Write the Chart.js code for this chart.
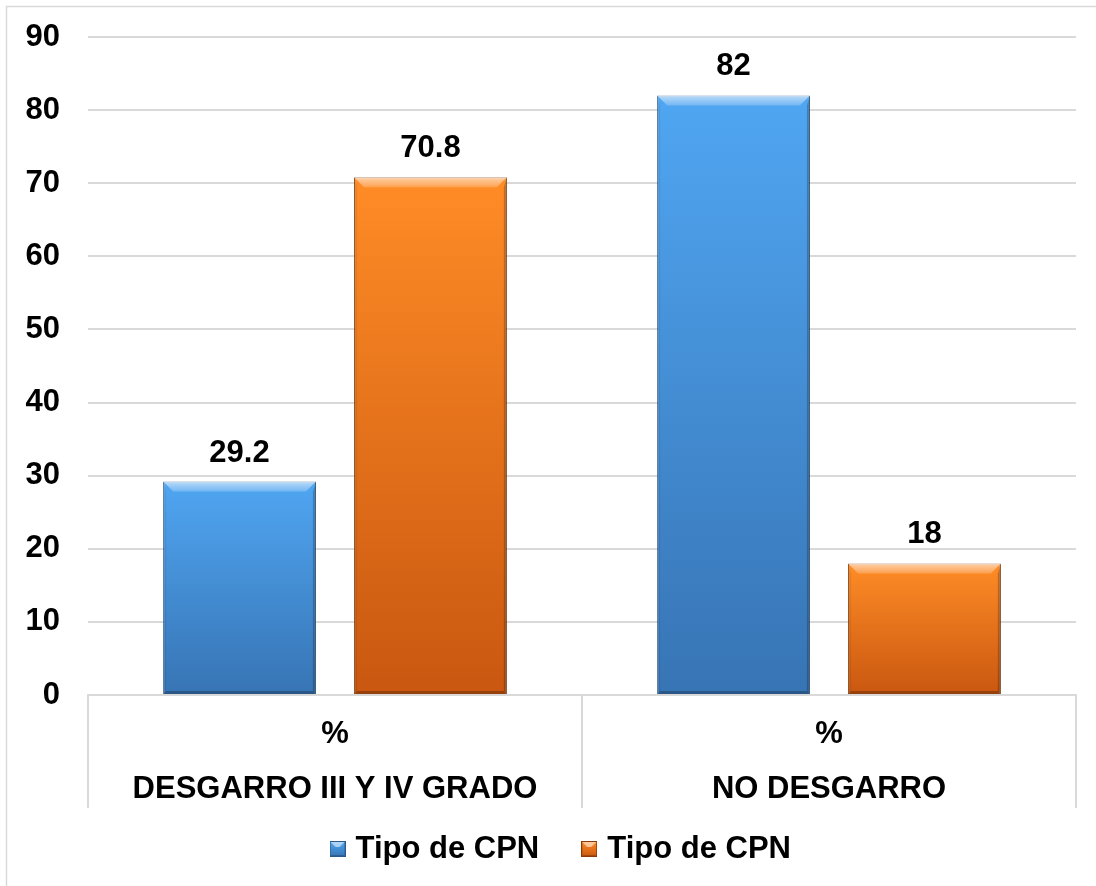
<!DOCTYPE html>
<html>
<head>
<meta charset="utf-8">
<script src="https://cdn.jsdelivr.net/npm/chart.js@4.4.1/dist/chart.umd.min.js"></script>
<style>
  html, body { margin: 0; padding: 0; background: #ffffff; }
  #wrap { width: 1096px; height: 886px; position: relative; }
</style>
</head>
<body>
<div id="wrap"><canvas id="chart" width="1096" height="886"></canvas></div>
<script>
// Categories: first line is the unit row, second line is the group name
const categories = [["%", "DESGARRO III Y IV GRADO"], ["%", "NO DESGARRO"]];
const seriesNames = ["Tipo de CPN", "Tipo de CPN"];
const blueValues = [29.2, 82];
const orangeValues = [70.8, 18];
const yMin = 0;
const yMax = 90;
const yStep = 10;

const FONT = '"Liberation Sans", Arial, Helvetica, sans-serif';
Chart.defaults.font.family = FONT;
Chart.defaults.color = '#000000';

const BLUE = { top: '#50A6F2', bottom: '#3774B4', border: '#2B5A8A', flat: '#4290DA' };
const ORANGE = { top: '#FF8C26', bottom: '#C95710', border: '#8A3A06', flat: '#F27A1C' };

// Vertical gradient for each bar, from its value down to the baseline
function barFill(pal) {
  return (c) => {
    const chart = c.chart;
    const ys = chart.scales && chart.scales.y;
    if (!ys || !chart.chartArea || c.raw == null) return pal.flat;
    const yTop = ys.getPixelForValue(c.raw);
    const yBase = ys.getPixelForValue(0);
    if (!isFinite(yTop) || !isFinite(yBase) || yTop === yBase) return pal.flat;
    const g = chart.ctx.createLinearGradient(0, yTop, 0, yBase);
    g.addColorStop(0, pal.top);
    g.addColorStop(1, pal.bottom);
    return g;
  };
}

// Small bevelled square used as the legend marker
function legendIcon(pal) {
  const s = 16;
  const cv = document.createElement('canvas');
  cv.width = s; cv.height = s;
  const x = cv.getContext('2d');
  const g = x.createLinearGradient(0, 0, 0, s);
  g.addColorStop(0, pal.top);
  g.addColorStop(1, pal.bottom);
  x.fillStyle = g;
  x.fillRect(0, 0, s, s);
  x.fillStyle = 'rgba(255,255,255,0.55)';
  x.beginPath();
  x.moveTo(0, 0); x.lineTo(s, 0); x.lineTo(s - 6, 6); x.lineTo(6, 6);
  x.closePath(); x.fill();
  x.fillStyle = 'rgba(0,0,0,0.2)';
  x.beginPath();
  x.moveTo(0, s); x.lineTo(s, s); x.lineTo(s - 2, s - 2); x.lineTo(2, s - 2);
  x.closePath(); x.fill();
  x.strokeStyle = pal.border;
  x.lineWidth = 1;
  x.strokeRect(0.5, 0.5, s - 1, s - 1);
  return cv;
}

// White page with a thin grey frame
const framePlugin = {
  id: 'frame',
  beforeDraw(chart) {
    const ctx = chart.ctx;
    ctx.save();
    ctx.fillStyle = '#ffffff';
    ctx.fillRect(0, 0, chart.width, chart.height);
    ctx.strokeStyle = '#d9d9d9';
    ctx.lineWidth = 1.5;
    ctx.strokeRect(6.5, 6.5, chart.width + 20, chart.height + 20);
    ctx.restore();
  }
};

// Place the legend row just under the category boxes
const legendPlacePlugin = {
  id: 'legendPlace',
  afterLayout(chart) {
    const lg = chart.legend;
    if (!lg) return;
    lg.top = chart.chartArea.bottom + 91;
    lg.bottom = lg.top + 100;
    lg.height = 100;
    lg.left += 21;
    lg.right += 21;
  }
};

// Bevel shading on top of each bar, positioned from the bar elements
const bevelPlugin = {
  id: 'bevel',
  afterDatasetsDraw(chart) {
    const ctx = chart.ctx;
    chart.data.datasets.forEach((ds, di) => {
      const meta = chart.getDatasetMeta(di);
      meta.data.forEach((bar) => {
        const p = bar.getProps(['x', 'y', 'base', 'width'], true);
        const l = p.x - p.width / 2, r = p.x + p.width / 2;
        const t = Math.min(p.y, p.base), b = Math.max(p.y, p.base);
        const d = 10, s = 3;
        ctx.save();
        // lit top edge
        const g = ctx.createLinearGradient(0, t, 0, t + d);
        g.addColorStop(0, 'rgba(255,255,255,0.6)');
        g.addColorStop(1, 'rgba(255,255,255,0.2)');
        ctx.fillStyle = g;
        ctx.beginPath();
        ctx.moveTo(l, t); ctx.lineTo(r, t); ctx.lineTo(r - d, t + d); ctx.lineTo(l + d, t + d);
        ctx.closePath(); ctx.fill();
        // shaded right edge
        ctx.fillStyle = 'rgba(0,0,0,0.22)';
        ctx.beginPath();
        ctx.moveTo(r, t); ctx.lineTo(r, b); ctx.lineTo(r - s, b - s); ctx.lineTo(r - s, t + d);
        ctx.closePath(); ctx.fill();
        // faint left edge
        ctx.fillStyle = 'rgba(0,0,0,0.07)';
        ctx.beginPath();
        ctx.moveTo(l, t); ctx.lineTo(l + s, t + d); ctx.lineTo(l + s, b - s); ctx.lineTo(l, b);
        ctx.closePath(); ctx.fill();
        // shaded bottom edge
        ctx.fillStyle = 'rgba(0,0,0,0.25)';
        ctx.beginPath();
        ctx.moveTo(l, b); ctx.lineTo(r, b); ctx.lineTo(r - s, b - s); ctx.lineTo(l + s, b - s);
        ctx.closePath(); ctx.fill();
        ctx.restore();
      });
    });
  }
};

// Value labels above each bar
const valueLabelPlugin = {
  id: 'valueLabels',
  afterDatasetsDraw(chart) {
    const ctx = chart.ctx;
    ctx.save();
    ctx.font = 'bold 31px ' + FONT;
    ctx.fillStyle = '#000000';
    ctx.textAlign = 'center';
    ctx.textBaseline = 'alphabetic';
    chart.data.datasets.forEach((ds, di) => {
      const meta = chart.getDatasetMeta(di);
      meta.data.forEach((bar, i) => {
        const p = bar.getProps(['x', 'y'], true);
        ctx.fillText(String(ds.data[i]), p.x, p.y - 20);
      });
    });
    ctx.restore();
  }
};

const palettes = [BLUE, ORANGE];

new Chart(document.getElementById('chart'), {
  type: 'bar',
  data: {
    labels: categories,
    datasets: [
      {
        label: seriesNames[0],
        data: blueValues,
        backgroundColor: barFill(BLUE),
        borderColor: BLUE.border,
        borderWidth: 1,
        categoryPercentage: 0.773,
        barPercentage: 0.8
      },
      {
        label: seriesNames[1],
        data: orangeValues,
        backgroundColor: barFill(ORANGE),
        borderColor: ORANGE.border,
        borderWidth: 1,
        categoryPercentage: 0.773,
        barPercentage: 0.8
      }
    ]
  },
  options: {
    responsive: false,
    animation: false,
    devicePixelRatio: 1,
    layout: { padding: { left: 8, right: 20, top: 37, bottom: 11 } },
    scales: {
      x: {
        offset: true,
        grid: {
          offset: true,
          drawOnChartArea: false,
          drawTicks: true,
          tickLength: 113,
          color: '#d9d9d9',
          lineWidth: 2
        },
        border: { display: true, color: '#d9d9d9', width: 2 },
        ticks: {
          autoSkip: false,
          maxRotation: 0,
          padding: -101.5,
          color: '#000000',
          font: { size: 31, weight: 'bold', lineHeight: 1.775 }
        },
        afterFit(scale) { scale.height = 110; }
      },
      y: {
        min: yMin,
        max: yMax,
        ticks: {
          stepSize: yStep,
          padding: 28,
          color: '#000000',
          font: { size: 31, weight: 'bold' }
        },
        grid: {
          drawTicks: false,
          color: '#d9d9d9',
          lineWidth: 2
        },
        border: { display: false },
        afterFit(scale) {
          scale.width = 80;
          scale.paddingTop = 0;
          scale.paddingBottom = 0;
        }
      }
    },
    plugins: {
      tooltip: { enabled: false },
      legend: {
        position: 'bottom',
        maxHeight: 70,
        labels: {
          usePointStyle: true,
          pointStyleWidth: 5,
          padding: 47.5,
          color: '#000000',
          font: { size: 31, weight: 'bold' },
          generateLabels(chart) {
            return chart.data.datasets.map((ds, i) => ({
              text: ds.label,
              pointStyle: legendIcon(palettes[i]),
              fillStyle: palettes[i].flat,
              strokeStyle: palettes[i].border,
              lineWidth: 0,
              hidden: false,
              datasetIndex: i
            }));
          }
        }
      }
    }
  },
  plugins: [framePlugin, legendPlacePlugin, bevelPlugin, valueLabelPlugin]
});
</script>
</body>
</html>
